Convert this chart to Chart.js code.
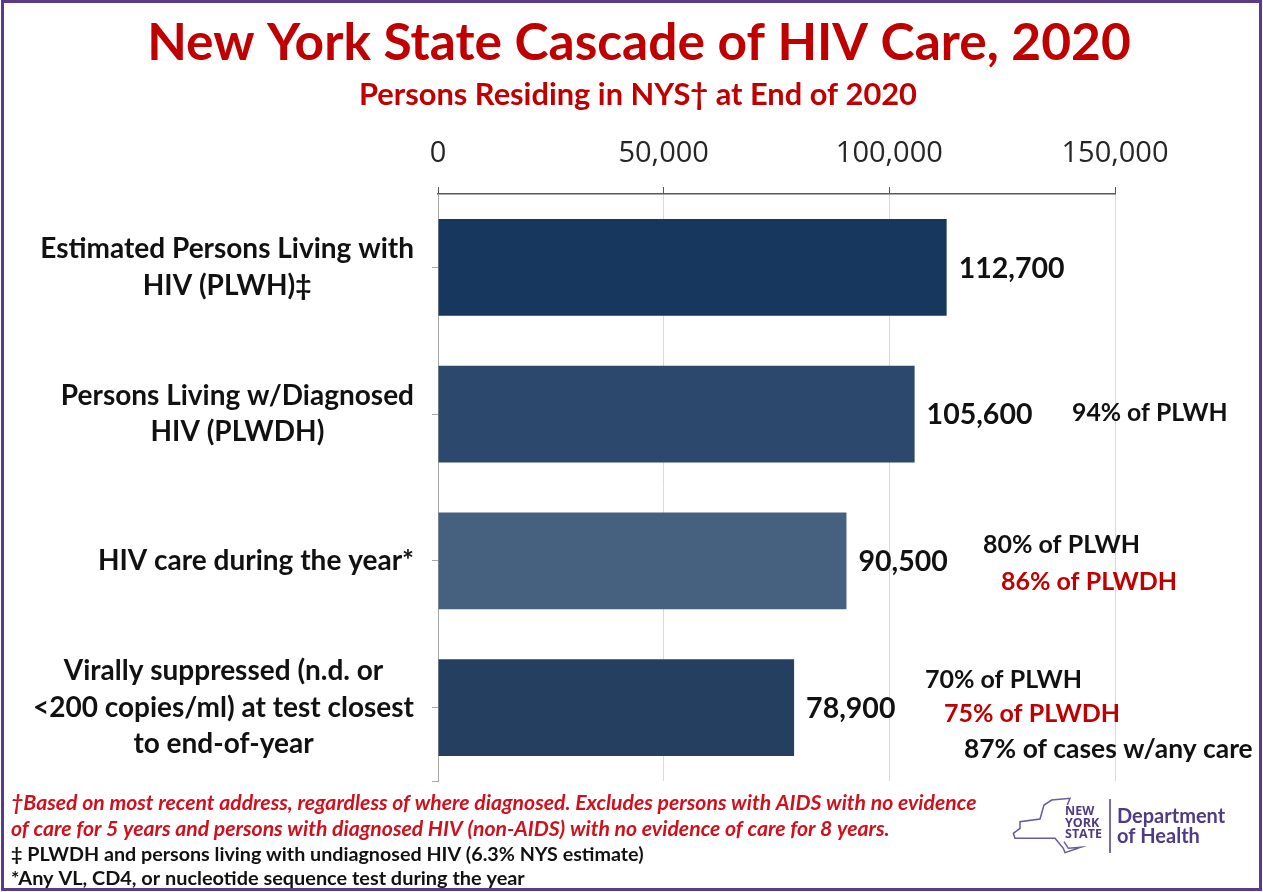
<!DOCTYPE html>
<html>
<head>
<meta charset="utf-8">
<title>New York State Cascade of HIV Care, 2020</title>
<script src="https://cdn.jsdelivr.net/npm/chart.js@4"></script>
<style>
    html, body { margin: 0; padding: 0; background: #fff; }
    canvas { display: block; }
</style>
</head>
<body>
<canvas id="cascadeChart" width="1263" height="892"></canvas>
<script>
const categories = ['Estimated PLWH', 'PLWDH', 'HIV care', 'Virally suppressed'];
const categoryLines = [
    ['Estimated Persons Living with', 'HIV (PLWH)\u2021'],
    ['Persons Living w/Diagnosed', 'HIV (PLWDH)'],
    ['HIV care during the year*'],
    ['Virally suppressed (n.d. or', '<200 copies/ml) at test closest', 'to end-of-year']
];
const persons = [112700, 105600, 90500, 78900];
const barColors = ['#17375e', '#2c486d', '#46607f', '#243f60'];
const xTicks = [0, 50000, 100000, 150000];

const red = '#c00000';
const footnoteRed = '#d0101c';

function drawHeading(ctx) {
    ctx.textAlign = 'center';
    ctx.fillStyle = red;
    ctx.font = 'bold 51.5px Lato';
    ctx.fillText('New York State Cascade of HIV Care, 2020', 639, 60);
    ctx.font = 'bold 30.8px Lato';
    ctx.fillText('Persons Residing in NYS\u2020 at End of 2020', 638, 105);
    ctx.textAlign = 'left';
}

// extra text next to the bars, x / y
function drawNotes(ctx) {
    const notes = [
        ['94% of PLWH', 1072, 421, '#111', 24.8],
        ['80% of PLWH', 983, 553, '#111', 25],
        ['86% of PLWDH', 1001, 590, red, 25],
        ['70% of PLWH', 925, 688, '#111', 25],
        ['75% of PLWDH', 944, 722, red, 25],
        ['87% of cases w/any care', 964, 758, '#111', 26.4]
    ];
    notes.forEach(n => {
        ctx.font = 'bold ' + n[4] + 'px Lato';
        ctx.fillStyle = n[3];
        ctx.fillText(n[0], n[1], n[2]);
    });
}

function drawFootnotes(ctx) {
    ctx.font = 'italic bold 21.2px Lato';
    ctx.fillStyle = footnoteRed;
    ctx.fillText('\u2020Based on most recent address, regardless of where diagnosed. Excludes persons with AIDS with no evidence', 11, 810);
    ctx.fillText('of care for 5 years and persons with diagnosed HIV (non-AIDS) with no evidence of care for 8 years.', 11, 836);
    ctx.font = 'bold 19.7px Lato';
    ctx.fillStyle = '#111';
    ctx.fillText('\u2021 PLWDH and persons living with undiagnosed HIV (6.3% NYS estimate)', 11, 861);
    ctx.font = 'bold 19.9px Lato';
    ctx.fillText('*Any VL, CD4, or nucleotide sequence test during the year', 11, 885);
}

function drawLogo(ctx) {
    const purple = '#4f3a85';
    const outline = [[262,105],[270,85],[215,90],[192,105],[180,147],[120,155],[120,175],[100,190],[105,205],[225,205],[250,235],[255,248],[303,232],[265,235],[252,215]];
    ctx.strokeStyle = '#6a5a9c';
    ctx.lineWidth = 1.5;
    ctx.beginPath();
    outline.forEach((p, i) => {
        const x = 980 + p[0] / 3, y = 770 + p[1] / 3;
        if (i === 0) ctx.moveTo(x, y); else ctx.lineTo(x, y);
    });
    ctx.stroke();

    ctx.strokeStyle = purple;
    ctx.beginPath();
    ctx.moveTo(1110, 799);
    ctx.lineTo(1110, 853);
    ctx.stroke();

    ctx.fillStyle = purple;
    ctx.font = 'bold 12.5px "Open Sans"';
    ctx.fillText('NEW', 1065, 815);
    ctx.fillText('YORK', 1065, 826.5);
    ctx.fillText('STATE', 1065, 838);
    ctx.font = 'bold 20px Lato';
    ctx.fillText('Department', 1117, 823);
    ctx.fillText('of Health', 1117, 843);
}

const extrasPlugin = {
    id: 'extras',
    afterDraw(chart) {
        const ctx = chart.ctx;
        const x = chart.scales.x, y = chart.scales.y;
        ctx.save();

        drawHeading(ctx);

        // category labels, each line centred inside its own block
        ctx.font = 'bold 28px Lato';
        ctx.fillStyle = '#111';
        ctx.textBaseline = 'middle';
        categoryLines.forEach((lines, i) => {
            const widest = Math.max(...lines.map(l => ctx.measureText(l).width));
            const mid = 414 - widest / 2;
            const top = y.getPixelForValue(i) - (lines.length - 1) * 36.5 / 2;
            ctx.textAlign = 'center';
            lines.forEach((l, j) => ctx.fillText(l, mid, top + j * 36.5));
        });

        // value labels at the end of the bars
        ctx.textAlign = 'left';
        ctx.font = 'bold 28.5px Lato';
        persons.forEach((v, i) => {
            ctx.fillText(v.toLocaleString('en-US'), x.getPixelForValue(v) + 12, y.getPixelForValue(i) + 1);
        });

        // little closing tick at the bottom of the category axis
        ctx.strokeStyle = '#a6a6a6';
        ctx.lineWidth = 1;
        ctx.beginPath();
        ctx.moveTo(432, y.bottom + 0.5);
        ctx.lineTo(x.left, y.bottom + 0.5);
        ctx.stroke();

        ctx.textBaseline = 'alphabetic';
        drawNotes(ctx);
        drawFootnotes(ctx);
        drawLogo(ctx);

        // frame round the slide
        ctx.strokeStyle = '#5b3a8c';
        ctx.lineWidth = 3;
        ctx.strokeRect(2.5, 1.5, 1258, 888);
        ctx.restore();
    }
};

new Chart(document.getElementById('cascadeChart'), {
    type: 'bar',
    data: {
        labels: categories,
        datasets: [{
            data: persons,
            backgroundColor: barColors,
            barPercentage: 0.66,
            categoryPercentage: 1
        }]
    },
    options: {
        indexAxis: 'y',
        responsive: false,
        animation: false,
        layout: { padding: { top: 118, right: 148, bottom: 111, left: 0 } },
        plugins: {
            legend: { display: false },
            tooltip: { enabled: false }
        },
        scales: {
            x: {
                position: 'top',
                min: 0,
                max: 150000,
                afterBuildTicks(scale) {
                    scale.ticks = xTicks.map(v => ({ value: v }));
                },
                afterFit(scale) { scale.height = 76; },
                ticks: {
                    color: '#262626',
                    font: { family: '"Open Sans"', size: 29 },
                    maxRotation: 0,
                    padding: 16,
                    callback: v => v.toLocaleString('en-US')
                },
                grid: { color: '#d9d9d9', tickColor: '#595959', tickLength: 7 },
                border: { color: '#595959', width: 1.5 }
            },
            y: {
                afterFit(scale) { scale.width = 438; },
                ticks: { display: false },
                grid: { offset: false, drawOnChartArea: false, tickColor: '#a6a6a6', tickLength: 6 },
                border: { color: '#a6a6a6', width: 1 }
            }
        }
    },
    plugins: [extrasPlugin]
});
</script>
</body>
</html>
